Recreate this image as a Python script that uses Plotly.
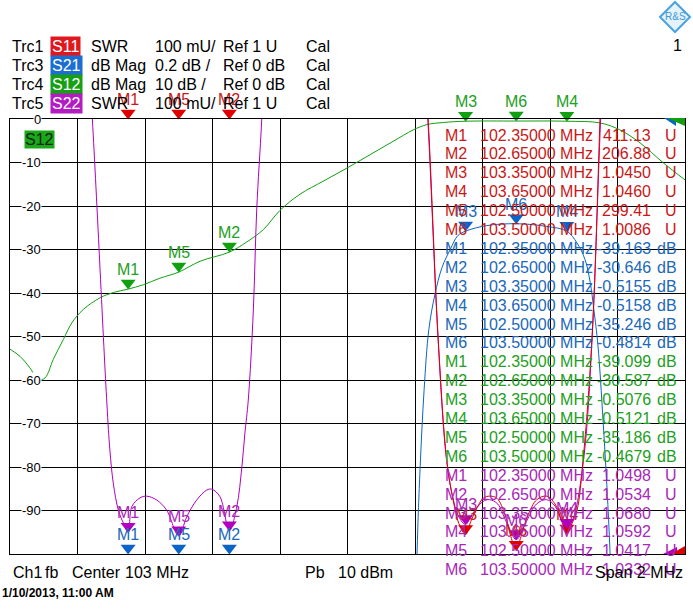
import numpy as np
import plotly.graph_objects as go

# sweep, MHz
f_start, f_stop = 102.0, 104.0

# marker table
mk_names = ['M1', 'M2', 'M3', 'M4', 'M5', 'M6']
mk_freq = [102.35, 102.65, 103.35, 103.65, 102.50, 103.50]
s11_mk = [411.13, 206.88, 1.0450, 1.0460, 299.41, 1.0086]
s21_mk = [-39.163, -30.646, -0.5155, -0.5158, -35.246, -0.4814]
s12_mk = [-39.099, -30.587, -0.5076, -0.5121, -35.186, -0.4679]
s22_mk = [1.0498, 1.0534, 1.0680, 1.0592, 1.0417, 1.0332]

# S12, dB
s12_f = [102.000, 102.030, 102.059, 102.084, 102.104, 102.128, 102.158, 102.183, 102.217,
         102.267, 102.306, 102.350, 102.395, 102.444, 102.500, 102.563, 102.650, 102.701,
         102.751, 102.800, 102.859, 102.928, 102.998, 103.067, 103.136, 103.195, 103.235,
         103.284, 103.350, 103.500, 103.650, 103.748, 103.807, 103.867, 103.936, 104.000]
s12_db = [-52.9, -54.6, -57.2, -59.9, -59.5, -55.3, -50.7, -46.9, -43.8,
          -41.1, -39.9, -39.1, -38.1, -36.6, -35.2, -32.7, -30.6, -28.3,
          -25.4, -21.0, -17.3, -14.3, -11.3, -8.2, -5.1, -2.5, -1.3,
          -0.8, -0.51, -0.47, -0.51, -0.9, -2.5, -5.5, -10.1, -14.0]

# S21, dB
s21_f = [102.00, 102.35, 102.50, 102.65, 102.90, 103.10, 103.18, 103.206, 103.215, 103.227,
         103.241, 103.259, 103.280, 103.304, 103.327, 103.350, 103.413, 103.500, 103.591,
         103.650, 103.680, 103.704, 103.719, 103.730, 103.742, 103.757, 103.769, 103.778,
         103.80, 103.90, 104.00]
s21_db = [-45.0, -39.163, -35.246, -30.646, -25.0, -12.0, -4.0, -2.0, -1.61, -1.245,
          -0.968, -0.807, -0.683, -0.601, -0.536, -0.5155, -0.49, -0.4814, -0.494,
          -0.5158, -0.57, -0.647, -0.75, -0.877, -1.04, -1.38, -1.70, -2.0,
          -3.0, -8.0, -15.0]

# S11, SWR
s11_f = [102.00, 102.20, 102.35, 102.50, 102.65, 102.90, 103.15, 103.20, 103.239, 103.269,
         103.294, 103.313, 103.330, 103.350, 103.368, 103.402, 103.422, 103.443, 103.467,
         103.484, 103.500, 103.514, 103.535, 103.561, 103.590, 103.615, 103.633, 103.650,
         103.665, 103.680, 103.698, 103.724, 103.748, 103.80, 104.00]
s11_swr = [60.0, 150.0, 411.13, 299.41, 206.88, 40.0, 3.5, 2.5, 2.0, 1.49,
           1.216, 1.124, 1.07, 1.045, 1.08, 1.128, 1.133, 1.128, 1.09,
           1.04, 1.0086, 1.04, 1.09, 1.125, 1.133, 1.115, 1.08, 1.046,
           1.07, 1.10, 1.216, 1.49, 2.0, 3.5, 30.0]

# S22, SWR
s22_f = [102.00, 102.15, 102.22, 102.244, 102.287, 102.296, 102.306, 102.321, 102.336, 102.350,
         102.361, 102.385, 102.405, 102.435, 102.464, 102.500, 102.524, 102.553, 102.583,
         102.598, 102.622, 102.650, 102.672, 102.687, 102.696, 102.706, 102.721, 102.731,
         102.746, 102.77, 102.85, 103.00, 103.15, 103.20, 103.238, 103.268, 103.293, 103.312,
         103.330, 103.350, 103.368, 103.400, 103.420, 103.445, 103.470, 103.500, 103.530,
         103.560, 103.590, 103.615, 103.635, 103.650, 103.668, 103.700, 103.725, 103.750,
         103.78, 103.90, 104.00]
s22_swr = [4.0, 3.0, 2.3, 2.0, 1.347, 1.239, 1.163, 1.101, 1.071, 1.0498,
           1.109, 1.129, 1.133, 1.124, 1.101, 1.0417, 1.086, 1.124, 1.147,
           1.149, 1.132, 1.0534, 1.109, 1.2, 1.278, 1.354, 1.561, 1.791,
           2.0, 2.4, 3.5, 5.0, 3.5, 2.5, 2.0, 1.50, 1.22, 1.13,
           1.085, 1.068, 1.09, 1.12, 1.125, 1.115, 1.075, 1.0332, 1.075,
           1.115, 1.125, 1.11, 1.075, 1.0592, 1.08, 1.22, 1.50, 2.0,
           2.5, 4.0, 5.0]

y_ticks = [0, -10, -20, -30, -40, -50, -60, -70, -80, -90]

RED, RED_T = '#e00000', '#c81818'
BLUE, BLUE_T = '#0a64c8', '#2068b8'
GREEN, GREEN_T = '#10a010', '#22a022'
MAG, MAG_T = '#b000c0', '#a828b8'
FONT = 'Liberation Sans, Arial, sans-serif'

# plot area in pixels
L, R, T, B = 10, 685, 119, 554


def px(x):
    return (x - L) / (R - L)


def py(y):
    return (B - y) / (B - T)


fig = go.Figure()
ann = []

fig.add_trace(go.Scatter(x=s21_f, y=s21_db, yaxis='y2', mode='lines',
                         line=dict(color=BLUE, width=1, shape='spline'), hoverinfo='skip'))
fig.add_trace(go.Scatter(x=s12_f, y=s12_db, yaxis='y', mode='lines',
                         line=dict(color=GREEN, width=1, shape='spline'), hoverinfo='skip'))
fig.add_trace(go.Scatter(x=s22_f, y=s22_swr, yaxis='y3', mode='lines',
                         line=dict(color=MAG, width=1, shape='spline'), hoverinfo='skip'))
fig.add_trace(go.Scatter(x=s11_f, y=s11_swr, yaxis='y3', mode='lines',
                         line=dict(color=RED, width=1, shape='spline'), hoverinfo='skip'))


def add_markers(vals, lo, hi, yaxis, color, tcolor):
    yv = np.clip(vals, lo, hi)
    # arrow-style marker: tip rests on the value
    fig.add_trace(go.Scatter(
        x=mk_freq, y=yv, yaxis=yaxis, mode='markers', cliponaxis=False,
        marker=dict(symbol='triangle-up', size=13, color=color, angle=180, standoff=6),
        hoverinfo='skip'))
    yref = 'y' if yaxis == 'y' else yaxis
    for name, f, v in zip(mk_names, mk_freq, yv):
        ann.append(dict(x=f, y=v, xref='x', yref=yref, text=name, showarrow=False,
                        yanchor='bottom', yshift=9, font=dict(family=FONT, size=16, color=tcolor)))


add_markers(s11_mk, 1, 2, 'y3', RED, RED_T)
add_markers(s21_mk, -2, 0, 'y2', BLUE, BLUE_T)
add_markers(s12_mk, -100, 0, 'y', GREEN, GREEN_T)
add_markers(s22_mk, 1, 2, 'y3', MAG, MAG_T)

# y tick labels sit inside the grid with a white patch
for v in y_ticks:
    ann.append(dict(x=px(42), y=v, xref='paper', yref='y', text=str(v), showarrow=False,
                    xanchor='right', yanchor='middle', bgcolor='white', borderpad=0,
                    font=dict(family=FONT, size=13, color='black')))

ann.append(dict(x=px(24), y=py(139), xref='paper', yref='paper', text='S12', showarrow=False,
                xanchor='left', yanchor='middle', bgcolor='#18a818', borderpad=0,
                font=dict(family=FONT, size=16, color='#102010')))

# header lines
header = [
    ('Trc1', 'S11', '#e0181e', 'SWR', '100 mU/', 'Ref 1 U'),
    ('Trc3', 'S21', '#1c6fd0', 'dB Mag', '0.2 dB /', 'Ref 0 dB'),
    ('Trc4', 'S12', '#16a016', 'dB Mag', '10 dB /', 'Ref 0 dB'),
    ('Trc5', 'S22', '#b21cc0', 'SWR', '100 mU/', 'Ref 1 U'),
]
for i, (trc, sp, col, fmt, scale, ref) in enumerate(header):
    yy = py(47 + i * 18.7)
    for xpos, txt in [(10, trc), (89, fmt), (153, scale), (221, ref), (304, 'Cal')]:
        ann.append(dict(x=px(xpos), y=yy, xref='paper', yref='paper', text=txt, showarrow=False,
                        xanchor='left', yanchor='middle', font=dict(family=FONT, size=16, color='black')))
    ann.append(dict(x=px(50), y=yy, xref='paper', yref='paper', text=sp, showarrow=False,
                    xanchor='left', yanchor='middle', bgcolor=col, borderpad=1,
                    font=dict(family=FONT, size=16, color='white')))
ann.append(dict(x=px(684), y=py(45), xref='paper', yref='paper', text='1', showarrow=False,
                xanchor='right', yanchor='middle', font=dict(family=FONT, size=16, color='black')))

# marker value table
table = [(s11_mk, 'U', RED_T), (s21_mk, 'dB', BLUE_T), (s12_mk, 'dB', GREEN_T), (s22_mk, 'U', MAG_T)]
row = 0
for vals, unit, col in table:
    for name, f, v in zip(mk_names, mk_freq, vals):
        if unit == 'U':
            vs = f'{v:.2f}' if v >= 100 else f'{v:.4f}'
        else:
            vs = f'{v:.3f}' if abs(v) >= 10 else f'{v:.4f}'
        yy = py(135 + row * 18.9)
        fnt = dict(family=FONT, size=16, color=col)
        ann.append(dict(x=px(443), y=yy, xref='paper', yref='paper', text=name, showarrow=False,
                        xanchor='left', yanchor='middle', font=fnt))
        ann.append(dict(x=px(478), y=yy, xref='paper', yref='paper', text=f'{f:.5f} MHz',
                        showarrow=False, xanchor='left', yanchor='middle', font=fnt))
        ann.append(dict(x=px(653), y=yy, xref='paper', yref='paper', text=vs, showarrow=False,
                        xanchor='right', yanchor='middle', font=fnt))
        ann.append(dict(x=px(679), y=yy, xref='paper', yref='paper', text=unit, showarrow=False,
                        xanchor='right', yanchor='middle', font=fnt))
        row += 1

# footer
center = (f_start + f_stop) / 2
span = f_stop - f_start
for xpos, txt in [(11, 'Ch1'), (43, 'fb'), (70, 'Center'), (123, f'{center:g} MHz'),
                  (303, 'Pb'), (336, '10 dBm')]:
    ann.append(dict(x=px(xpos), y=py(572), xref='paper', yref='paper', text=txt, showarrow=False,
                    xanchor='left', yanchor='middle', font=dict(family=FONT, size=16, color='black')))
ann.append(dict(x=px(685), y=py(572), xref='paper', yref='paper', text=f'Span {span:g} MHz',
                showarrow=False, xanchor='right', yanchor='middle',
                font=dict(family=FONT, size=16, color='black')))
ann.append(dict(x=px(0), y=py(593), xref='paper', yref='paper', text='<b>1/10/2013, 11:00 AM</b>',
                showarrow=False, xanchor='left', yanchor='middle',
                font=dict(family=FONT, size=12, color='black')))


def tri(pts, color):
    path = 'M ' + ' L '.join(f'{px(a)} {py(b)}' for a, b in pts) + ' Z'
    return dict(type='path', xref='paper', yref='paper', path=path,
                line=dict(width=0), fillcolor=color)


# logo
cx, cy, h = 675, 17, 15
ann.append(dict(x=px(cx), y=py(cy), xref='paper', yref='paper', text='R&S', showarrow=False,
                xanchor='center', yanchor='middle', font=dict(family=FONT, size=10, color='#3c9ad8')))
shapes = [dict(type='path', xref='paper', yref='paper',
               path=f'M {px(cx - h)} {py(cy)} L {px(cx)} {py(cy - h)} L {px(cx + h)} {py(cy)} '
                    f'L {px(cx)} {py(cy + h)} Z',
               line=dict(color='#4aa3df', width=2), fillcolor='#e4f2fb')]

# reference-level flags at the right edge
shapes += [
    tri([(664, 118), (676, 118), (676, 126)], BLUE),
    tri([(667, 118), (685, 118), (685, 126)], GREEN),
    tri([(663, 554), (677, 547), (677, 554)], MAG),
    tri([(671, 554), (685, 546), (685, 554)], RED),
]

grid = dict(showgrid=True, gridcolor='black', gridwidth=1, showticklabels=False, ticks='',
            showline=True, linecolor='black', linewidth=1, mirror=True, zeroline=False,
            fixedrange=True)

fig.update_layout(
    width=693, height=611,
    margin=dict(l=L, r=693 - R, t=T, b=611 - B),
    paper_bgcolor='white', plot_bgcolor='white',
    showlegend=False,
    xaxis=dict(range=[f_start, f_stop], dtick=0.2, tick0=f_start, **grid),
    yaxis=dict(range=[-100, 0], dtick=10, **grid),
    yaxis2=dict(range=[-2, 0], overlaying='y', visible=False, fixedrange=True),
    yaxis3=dict(range=[1, 2], overlaying='y', visible=False, fixedrange=True),
    annotations=ann,
    shapes=shapes,
)

# the page's default body margin would push the figure off the window
fig.write_html('out.html', config={'displayModeBar': False},
               post_script="document.body.style.margin='0';")
